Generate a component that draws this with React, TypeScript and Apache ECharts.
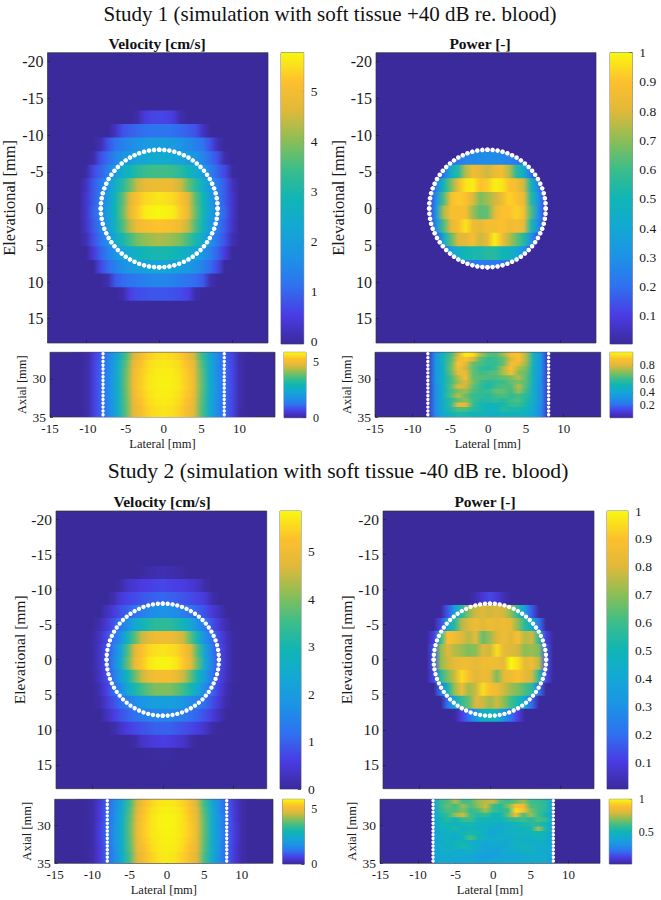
import React, { useEffect, useRef } from "react";
import * as echarts from "echarts";

const FONT = "Liberation Serif";

const parulaStops = ["#3b2a9c", "#4a3ce4", "#2f72f0", "#1c93e6", "#13a8d3", "#10b5b5", "#3cbd8a", "#8bbe55", "#e0b83a", "#fdc02e", "#f8f80f"];

const studyTitles = ["Study 1 (simulation with soft tissue +40 dB re. blood)", "Study 2 (simulation with soft tissue -40 dB re. blood)"];
const panelTitles = ["Velocity [cm/s]", "Power [-]"];

const rowEdges = [-15.2, -13.35, -11.5, -9.65, -7.8, -5.95, -4.1, -2.25, -0.4, 1.45, 3.3, 5.15, 7.0, 8.85, 10.7, 12.55, 14.4];
const lateralWide = [-12, -11, -10, -9, -8, -7, -6, -5, -4, -3, -2, -1, 0, 1, 2, 3, 4, 5, 6, 7, 8, 9, 10, 11, 12];
const lateralNarrow = [-8, -7, -6, -5, -4, -3, -2, -1, 0, 1, 2, 3, 4, 5, 6, 7, 8];

const velocity1 = [
  [0,0,0,0,0,0,0,0,0,0,0,0,0,0,0,0,0,0,0,0,0,0,0,0,0],
  [0,0,0,0,0,0,0,0,0,.1,.5,.65,.7,.65,.5,.1,0,0,0,0,0,0,0,0,0],
  [0,0,0,0,0,0,.3,.8,.95,1.05,1.15,1.2,1.2,1.2,1.15,1.05,.95,.8,.3,0,0,0,0,0,0],
  [0,0,0,0,.2,.8,1.2,1.4,1.6,1.75,1.9,2,2,2,1.9,1.75,1.6,1.4,1.2,.8,.2,0,0,0,0],
  [0,0,0,.1,.8,1.1,1.5,1.8,2,2.2,2.3,2.4,2.4,2.4,2.3,2.2,2,1.8,1.5,1.1,.8,.1,0,0,0],
  [0,0,.05,.7,1,1.4,2,2.5,2.9,3.2,3.4,3.5,3.5,3.5,3.4,3.2,2.9,2.5,2,1.4,1,.7,.05,0,0],
  [0,0,.3,.9,1.3,1.8,2.6,3.2,3.8,4.5,4.8,4.9,4.9,4.9,4.8,4.5,3.8,3.2,2.6,1.8,1.3,.9,.3,0,0],
  [0,0,.4,.9,1.4,2,2.9,3.7,4.7,5.2,5.45,5.55,5.6,5.55,5.45,5.2,4.7,3.7,2.9,2,1.4,.9,.4,0,0],
  [0,0,.4,1,1.5,2.1,2.9,3.8,4.8,5.3,5.65,5.75,5.78,5.75,5.65,5.3,4.8,3.8,2.9,2.1,1.5,1,.4,0,0],
  [0,0,.35,.9,1.4,1.9,2.8,3.6,4.4,4.9,5.1,5.2,5.25,5.2,5.1,4.9,4.4,3.6,2.8,1.9,1.4,.9,.35,0,0],
  [0,0,.2,.8,1.2,1.7,2.4,3,3.5,3.9,4.1,4.2,4.3,4.2,4.1,3.9,3.5,3,2.4,1.7,1.2,.8,.2,0,0],
  [0,0,0,.5,1,1.4,1.8,2.2,2.5,2.7,2.9,3,3,3,2.9,2.7,2.5,2.2,1.8,1.4,1,.5,0,0,0],
  [0,0,0,0,.7,1.1,1.4,1.7,1.9,2,2.1,2.2,2.2,2.2,2.1,2,1.9,1.7,1.4,1.1,.7,0,0,0,0],
  [0,0,0,0,0,.15,.9,1.1,1.2,1.3,1.4,1.5,1.5,1.5,1.4,1.3,1.2,1.1,.9,.15,0,0,0,0,0],
  [0,0,0,0,0,0,0,.1,.6,.75,.8,.85,.85,.85,.8,.75,.6,.1,0,0,0,0,0,0,0],
  [0,0,0,0,0,0,0,0,0,0,0,0,0,0,0,0,0,0,0,0,0,0,0,0,0],
];

const power1 = [
  [0,0,0,0,0,0,0,0,0,0,0,0,0,0,0,0,0,0,0,0,0,0,0,0,0],
  [0,0,0,0,0,0,0,0,0,0,0,0,0,0,0,0,0,0,0,0,0,0,0,0,0],
  [0,0,0,0,0,0,0,0,0,0,0,0,0,0,0,0,0,0,0,0,0,0,0,0,0],
  [0,0,0,0,0,0,0,0,0,0,.05,.08,.08,.08,.05,0,0,0,0,0,0,0,0,0,0],
  [0,0,0,0,0,.05,.12,.18,.22,.25,.27,.28,.28,.28,.27,.25,.22,.18,.12,.05,0,0,0,0,0],
  [0,0,0,0,0,.1,.2,.42,.55,.75,.86,.82,.78,.84,.86,.75,.55,.42,.2,.08,0,0,0,0,0],
  [0,0,0,0,.05,.25,.5,.68,.85,.96,.98,.9,.92,.98,.97,.9,.87,.78,.5,.25,.05,0,0,0,0],
  [0,0,0,0,.1,.3,.62,.88,.92,.9,.8,.68,.72,.78,.85,.93,.9,.84,.55,.3,.1,0,0,0,0],
  [0,0,0,0,.1,.35,.74,.88,.88,.88,.72,.64,.65,.82,.9,.9,.93,.87,.62,.3,.1,0,0,0,0],
  [0,0,0,0,.1,.3,.62,.82,.88,.96,.85,.82,.87,.87,.9,.85,.87,.82,.52,.28,.08,0,0,0,0],
  [0,0,0,0,.04,.15,.42,.64,.8,.82,.87,.78,.83,.98,.87,.75,.65,.54,.3,.12,.03,0,0,0,0],
  [0,0,0,0,0,.05,.12,.35,.45,.5,.52,.52,.55,.55,.5,.48,.4,.3,.12,.05,0,0,0,0,0],
  [0,0,0,0,0,0,.05,.1,.15,.2,.22,.22,.22,.22,.22,.2,.15,.1,.05,0,0,0,0,0,0],
  [0,0,0,0,0,0,0,0,0,0,.03,.05,.05,.05,.03,0,0,0,0,0,0,0,0,0,0],
  [0,0,0,0,0,0,0,0,0,0,0,0,0,0,0,0,0,0,0,0,0,0,0,0,0],
  [0,0,0,0,0,0,0,0,0,0,0,0,0,0,0,0,0,0,0,0,0,0,0,0,0],
];

const velocity2 = [
  [0,0,0,0,0,0,0,0,0,0,0,0,0,0,0,0,0,0,0,0,0,0,0,0,0],
  [0,0,0,0,0,0,0,0,0,.03,.1,.15,.18,.15,.1,.03,0,0,0,0,0,0,0,0,0],
  [0,0,0,0,0,0,.1,.35,.45,.55,.6,.65,.7,.65,.6,.55,.45,.35,.1,0,0,0,0,0,0],
  [0,0,0,0,0,.15,.5,.65,.75,.85,.95,1,1.05,1,.95,.85,.75,.65,.5,.15,0,0,0,0,0],
  [0,0,0,0,.25,.5,.8,1,1.2,1.4,1.6,1.7,1.75,1.7,1.6,1.4,1.2,1,.8,.5,.25,0,0,0,0],
  [0,0,0,.15,.45,.85,1.3,1.7,2.3,2.8,3.1,3.3,3.3,3.3,3.1,2.8,2.3,1.7,1.3,.85,.45,.15,0,0,0],
  [0,0,.05,.3,.7,1.2,1.7,2.8,3.7,4.5,4.8,5,5,5,4.8,4.5,3.7,2.8,1.7,1.2,.7,.3,.05,0,0],
  [0,0,.05,.35,.8,1.4,2.2,3.6,4.7,5.2,5.5,5.6,5.65,5.6,5.5,5.2,4.7,3.6,2.2,1.4,.8,.35,.05,0,0],
  [0,0,.05,.35,.8,1.5,2.4,3.8,4.8,5.3,5.65,5.78,5.82,5.78,5.65,5.3,4.8,3.8,2.4,1.5,.8,.35,.05,0,0],
  [0,0,.05,.3,.7,1.3,2,2.9,3.8,4.5,4.9,5.1,5.1,5.1,4.9,4.5,3.8,2.9,2,1.3,.7,.3,.05,0,0],
  [0,0,0,.2,.6,1.1,1.6,2.3,3,3.5,3.8,4,4,4,3.8,3.5,3,2.3,1.6,1.1,.6,.2,0,0,0],
  [0,0,0,.1,.45,.8,1.1,1.4,1.6,1.8,2,2.1,2.1,2.1,2,1.8,1.6,1.4,1.1,.8,.45,.1,0,0,0],
  [0,0,0,0,.25,.55,.8,1,1.15,1.3,1.4,1.5,1.5,1.5,1.4,1.3,1.15,1,.8,.55,.25,0,0,0,0],
  [0,0,0,0,0,.1,.35,.55,.7,.8,.9,1,1,1,.9,.8,.7,.55,.35,.1,0,0,0,0,0],
  [0,0,0,0,0,0,0,0,.1,.35,.45,.55,.6,.55,.45,.35,.1,0,0,0,0,0,0,0,0],
  [0,0,0,0,0,0,0,0,0,0,0,.05,.05,.05,0,0,0,0,0,0,0,0,0,0,0],
];

const power2 = [
  [0,0,0,0,0,0,0,0,0,0,0,0,0,0,0,0,0,0,0,0,0,0,0,0,0],
  [0,0,0,0,0,0,0,0,0,0,0,0,0,0,0,0,0,0,0,0,0,0,0,0,0],
  [0,0,0,0,0,0,0,0,0,0,0,0,0,0,0,0,0,0,0,0,0,0,0,0,0],
  [0,0,0,0,0,0,0,0,0,0,.03,.08,.12,.08,.03,0,0,0,0,0,0,0,0,0,0],
  [0,0,0,0,0,0,.15,.35,.55,.7,.78,.8,.78,.8,.78,.7,.55,.35,.15,0,0,0,0,0,0],
  [0,0,0,0,0,.12,.4,.55,.75,.8,.85,.8,.85,.82,.85,.82,.7,.55,.45,.2,0,0,0,0,0],
  [0,0,0,0,.1,.55,.9,.85,.8,.75,.82,.65,.72,.8,.85,.8,.88,.75,.78,.55,.1,0,0,0,0],
  [0,0,0,0,.15,.7,.8,.75,.72,.68,.7,.8,.78,.95,.82,.8,.78,.7,.72,.68,.15,0,0,0,0],
  [0,0,0,0,.15,.7,.78,.82,.85,.85,.82,.85,.85,.85,.82,1,.95,.82,.85,.75,.15,0,0,0,0],
  [0,0,0,0,.12,.55,.68,.78,.95,.88,.8,.85,.82,.68,.82,.85,.9,.82,.78,.55,.12,0,0,0,0],
  [0,0,0,0,0,.2,.5,.72,.85,.72,.78,.95,.88,.85,.78,.72,.68,.62,.55,.2,0,0,0,0,0],
  [0,0,0,0,0,0,.2,.4,.58,.65,.8,.78,.72,.78,.7,.6,.52,.4,.18,0,0,0,0,0,0],
  [0,0,0,0,0,0,0,0,.1,.2,.3,.45,.5,.45,.3,.2,.1,0,0,0,0,0,0,0,0],
  [0,0,0,0,0,0,0,0,0,0,0,0,0,0,0,0,0,0,0,0,0,0,0,0,0],
  [0,0,0,0,0,0,0,0,0,0,0,0,0,0,0,0,0,0,0,0,0,0,0,0,0],
  [0,0,0,0,0,0,0,0,0,0,0,0,0,0,0,0,0,0,0,0,0,0,0,0,0],
];

const axialEdgesVelocity = [26.5, 27.5, 28.5, 29.5, 30.5, 31.5, 32.5, 33.5, 35];
const velocitySmall1 = [
  [0,0,.12,.65,1.05,1.65,2.45,3.55,4.6,5.1,5.4,5.55,5.6,5.55,5.4,5.1,4.6,3.55,2.45,1.65,1.05,.65,.12,0,0],
  [0,0,.12,.7,1.1,1.7,2.55,3.7,4.8,5.25,5.55,5.65,5.7,5.65,5.55,5.25,4.8,3.7,2.55,1.7,1.1,.7,.12,0,0],
  [0,0,.15,.7,1.1,1.7,2.6,3.8,4.9,5.35,5.6,5.72,5.75,5.72,5.6,5.35,4.9,3.8,2.6,1.7,1.1,.7,.15,0,0],
  [0,0,.15,.7,1.15,1.75,2.6,3.85,4.95,5.4,5.65,5.75,5.78,5.75,5.65,5.4,4.95,3.85,2.6,1.75,1.15,.7,.15,0,0],
  [0,0,.15,.7,1.15,1.75,2.65,3.85,4.95,5.4,5.65,5.75,5.78,5.75,5.65,5.4,4.95,3.85,2.65,1.75,1.15,.7,.15,0,0],
  [0,0,.15,.7,1.15,1.75,2.6,3.8,4.9,5.35,5.6,5.72,5.75,5.72,5.6,5.35,4.9,3.8,2.6,1.75,1.15,.7,.15,0,0],
  [0,0,.15,.7,1.1,1.7,2.6,3.75,4.85,5.25,5.55,5.68,5.72,5.68,5.55,5.25,4.85,3.75,2.6,1.7,1.1,.7,.15,0,0],
  [0,0,.12,.7,1.1,1.7,2.55,3.7,4.75,5.15,5.45,5.6,5.65,5.6,5.45,5.15,4.75,3.7,2.55,1.7,1.1,.7,.12,0,0],
];
const velocitySmall2 = [
  [0,0,.1,.45,1,1.6,2.4,3.5,4.6,5.2,5.5,5.65,5.7,5.65,5.5,5.2,4.6,3.5,2.4,1.6,1,.45,.1,0,0],
  [0,0,.1,.5,1.05,1.65,2.5,3.65,4.75,5.3,5.6,5.72,5.78,5.72,5.6,5.3,4.75,3.65,2.5,1.65,1.05,.5,.1,0,0],
  [0,0,.1,.5,1.1,1.7,2.55,3.75,4.85,5.35,5.65,5.78,5.82,5.78,5.65,5.35,4.85,3.75,2.55,1.7,1.1,.5,.1,0,0],
  [0,0,.1,.55,1.1,1.7,2.6,3.8,4.9,5.4,5.65,5.78,5.82,5.78,5.65,5.4,4.9,3.8,2.6,1.7,1.1,.55,.1,0,0],
  [0,0,.1,.55,1.1,1.75,2.6,3.8,4.9,5.4,5.65,5.75,5.8,5.75,5.65,5.4,4.9,3.8,2.6,1.75,1.1,.55,.1,0,0],
  [0,0,.1,.55,1.1,1.75,2.6,3.75,4.85,5.35,5.6,5.72,5.78,5.72,5.6,5.35,4.85,3.75,2.6,1.75,1.1,.55,.1,0,0],
  [0,0,.1,.5,1.05,1.7,2.55,3.7,4.8,5.25,5.55,5.7,5.75,5.7,5.55,5.25,4.8,3.7,2.55,1.7,1.05,.5,.1,0,0],
  [0,0,.1,.5,1.05,1.65,2.5,3.6,4.7,5.15,5.45,5.65,5.7,5.65,5.45,5.15,4.7,3.6,2.5,1.65,1.05,.5,.1,0,0],
];

const axialEdgesPower = [26.5, 27.1, 27.7, 28.3, 28.9, 29.5, 30.1, 30.7, 31.3, 31.9, 32.5, 33.1, 33.7, 34.3, 35];
const powerSmall1 = [
  [.05,.3,.48,.6,.78,.98,.95,.74,.64,.62,.72,.87,.9,.75,.48,.3,.05],
  [.05,.3,.48,.62,.84,.9,.8,.64,.58,.6,.65,.8,.9,.75,.48,.3,.05],
  [.05,.3,.48,.64,.9,.82,.65,.62,.58,.58,.65,.87,.84,.72,.48,.3,.05],
  [.05,.3,.46,.66,.87,.78,.65,.58,.55,.6,.74,.9,.75,.68,.46,.3,.05],
  [.05,.3,.46,.64,.84,.84,.65,.6,.62,.64,.74,.87,.7,.65,.46,.3,.05],
  [.05,.3,.45,.6,.75,.87,.65,.64,.62,.62,.65,.68,.75,.64,.46,.28,.05],
  [.05,.3,.45,.6,.72,.8,.68,.6,.55,.58,.6,.65,.68,.64,.45,.28,.05],
  [.05,.28,.44,.62,.8,.78,.65,.58,.52,.6,.62,.62,.75,.62,.44,.28,.05],
  [.05,.28,.44,.6,.68,.72,.62,.58,.58,.65,.65,.6,.72,.6,.44,.28,.05],
  [.05,.28,.44,.62,.75,.65,.58,.58,.55,.6,.62,.58,.6,.56,.44,.28,.05],
  [.05,.28,.44,.55,.65,.7,.6,.55,.55,.58,.55,.6,.62,.54,.44,.28,.05],
  [.05,.28,.44,.56,.82,.82,.58,.52,.48,.48,.52,.58,.58,.52,.42,.28,.05],
  [.05,.28,.42,.54,.62,.62,.55,.52,.48,.48,.55,.52,.52,.48,.4,.26,.05],
  [.05,.26,.4,.48,.52,.52,.5,.48,.45,.45,.48,.48,.48,.45,.38,.26,.05],
];
const powerSmall2 = [
  [.35,.58,.62,.75,.6,.62,.72,.75,.78,.62,.6,.65,.72,.6,.58,.55,.35],
  [.35,.58,.65,.6,.72,.62,.7,.78,.6,.55,.68,.88,.85,.62,.6,.55,.35],
  [.35,.55,.62,.62,.68,.58,.62,.72,.6,.55,.6,.95,.9,.68,.6,.55,.35],
  [.35,.52,.58,.72,.78,.6,.55,.58,.5,.5,.65,.85,.62,.72,.6,.5,.35],
  [.35,.5,.55,.5,.58,.6,.5,.5,.48,.5,.55,.58,.6,.55,.62,.58,.35],
  [.35,.5,.5,.48,.5,.52,.45,.48,.45,.42,.45,.5,.52,.55,.55,.5,.35],
  [.35,.45,.5,.52,.45,.5,.48,.45,.4,.42,.48,.45,.5,.5,.72,.52,.35],
  [.35,.42,.48,.45,.5,.52,.5,.42,.4,.42,.45,.48,.48,.5,.5,.48,.35],
  [.35,.45,.45,.42,.5,.62,.5,.45,.42,.45,.42,.45,.45,.45,.5,.45,.35],
  [.35,.42,.48,.5,.5,.45,.42,.4,.42,.4,.42,.48,.45,.42,.45,.42,.35],
  [.35,.45,.42,.5,.52,.45,.42,.38,.4,.38,.42,.45,.5,.48,.42,.45,.35],
  [.35,.42,.45,.42,.42,.45,.4,.38,.36,.38,.42,.42,.48,.45,.42,.42,.35],
  [.35,.42,.4,.42,.4,.4,.38,.35,.36,.38,.4,.4,.4,.42,.42,.42,.35],
  [.32,.42,.42,.4,.4,.4,.38,.38,.38,.4,.4,.4,.42,.42,.42,.42,.32],
];

const circleQuarterX = [8, 7.97, 7.88, 7.73, 7.52, 7.25, 6.93, 6.55, 6.13, 5.66, 5.14, 4.59, 4, 3.38, 2.74, 2.07, 1.39, 0.7, 0];
const circleQuarterY = [0, 0.7, 1.39, 2.07, 2.74, 3.38, 4, 4.59, 5.14, 5.66, 6.13, 6.55, 6.93, 7.25, 7.52, 7.73, 7.88, 7.97, 8];
const axialDots = [26.7, 27.2, 27.7, 28.2, 28.7, 29.2, 29.7, 30.2, 30.7, 31.2, 31.7, 32.2, 32.7, 33.2, 33.7, 34.2, 34.7];
const dotLaterals = [-8, 8];

const elevationTicks = [-20, -15, -10, -5, 0, 5, 10, 15];
const mainLateralTicks = [-10, 0, 10];
const smallLateralTicks = [-15, -10, -5, 0, 5, 10];
const axialTicks = [30, 35];
const velocityBarTicks = [0, 1, 2, 3, 4, 5];
const powerBarTicks = [0.1, 0.2, 0.3, 0.4, 0.5, 0.6, 0.7, 0.8, 0.9, 1];
const smallVelocityBarTicks = [0, 5];
const smallPower1BarTicks = [0.2, 0.4, 0.6, 0.8];
const smallPower2BarTicks = [0.5, 1];

function parula(t: number) {
  return echarts.color.lerp(Math.max(0, Math.min(1, t)), parulaStops) as string;
}

type Box = { l: number; t: number; w: number; h: number };

function buildOption() {
  const grid: any[] = [];
  const xAxis: any[] = [];
  const yAxis: any[] = [];
  const series: any[] = [];
  const axisText = (size: number) => ({ fontFamily: FONT, fontSize: size, color: "#1a1a1a" });

  const heat = (
    gi: number,
    rows: number[][],
    edges: number[],
    lateral: number[],
    vMax: number,
    clipRadius?: number,
  ) => {
    series.push({
      type: "custom",
      coordinateSystem: "cartesian2d",
      xAxisIndex: gi,
      yAxisIndex: gi,
      silent: true,
      clip: true,
      z: 2,
      data: rows.map((_, i) => [lateral[0], edges[i]]),
      renderItem: (params: any, api: any) => {
        const i = params.dataIndex;
        const a = api.coord([lateral[0], edges[i]]);
        const b = api.coord([lateral[lateral.length - 1], edges[i + 1]]);
        const x = Math.min(a[0], b[0]);
        const y = Math.min(a[1], b[1]);
        const span = lateral[lateral.length - 1] - lateral[0];
        const stops = rows[i].map((v, k) => ({
          offset: (lateral[k] - lateral[0]) / span,
          color: parula(v / vMax),
        }));
        const el: any = {
          type: "rect",
          shape: { x, y, width: Math.abs(b[0] - a[0]), height: Math.abs(b[1] - a[1]) + (i < rows.length - 1 ? 1 : 0) },
          style: { fill: new echarts.graphic.LinearGradient(0, 0, 1, 0, stops) },
        };
        if (clipRadius) {
          const c = api.coord([0, 0]);
          const e = api.coord([clipRadius, 0]);
          el.clipPath = { type: "circle", shape: { cx: c[0], cy: c[1], r: Math.abs(e[0] - c[0]) } };
        }
        return el;
      },
    });
  };

  const addPlot = (
    box: Box,
    xr: number[],
    yr: number[],
    xTicks: number[],
    yTicks: number[],
    showX: boolean,
    yName: string,
    yNameGap: number,
    yNameSize: number,
    yLabelSize: number,
    inverse: boolean,
  ) => {
    const gi = grid.length;
    grid.push({
      left: box.l, top: box.t, width: box.w, height: box.h, show: true, z: 0,
      backgroundColor: parula(0), borderColor: "#333", borderWidth: 0.7, containLabel: false,
    });
    xAxis.push({
      gridIndex: gi, type: "value", min: xr[0], max: xr[1], position: "bottom",
      name: showX ? "Lateral [mm]" : "", nameLocation: "middle", nameGap: 20,
      nameTextStyle: axisText(12.5),
      splitLine: { show: false }, axisLine: { show: false, onZero: false },
      axisTick: { show: true, inside: true, length: 3, customValues: xTicks, lineStyle: { color: "#222", width: 0.7 } },
      axisLabel: { show: showX, customValues: xTicks, margin: 5, ...axisText(13) },
    });
    yAxis.push({
      gridIndex: gi, type: "value", min: yr[0], max: yr[1], inverse, position: "left",
      name: yName, nameLocation: "middle", nameGap: yNameGap, nameRotate: 90,
      nameTextStyle: axisText(yNameSize),
      splitLine: { show: false }, axisLine: { show: false, onZero: false },
      axisTick: { show: true, inside: true, length: 3, customValues: yTicks, lineStyle: { color: "#222", width: 0.7 } },
      axisLabel: { customValues: yTicks, margin: 4, ...axisText(yLabelSize) },
    });
    return gi;
  };

  const addBar = (box: Box, cMin: number, cMax: number, ticks: number[], size: number) => {
    const gi = grid.length;
    grid.push({ left: box.l, top: box.t, width: box.w, height: box.h, show: true, borderColor: "#444", borderWidth: 0.7, backgroundColor: "transparent" });
    xAxis.push({ gridIndex: gi, type: "value", min: 0, max: 1, show: false });
    yAxis.push({
      gridIndex: gi, type: "value", min: cMin, max: cMax, position: "right",
      splitLine: { show: false }, axisLine: { show: false, onZero: false },
      axisTick: { show: true, inside: true, length: 3, customValues: ticks, lineStyle: { color: "#222", width: 0.7 } },
      axisLabel: { customValues: ticks, margin: 7, formatter: (v: number) => String(v), ...axisText(size) },
    });
    series.push({
      type: "custom", coordinateSystem: "cartesian2d", xAxisIndex: gi, yAxisIndex: gi, silent: true, z: 1,
      data: [[0, cMax]],
      renderItem: (_: any, api: any) => {
        const a = api.coord([0, cMax]);
        const b = api.coord([1, cMin]);
        const n = parulaStops.length - 1;
        const colorStops = parulaStops.map((_c, k) => ({ offset: k / n, color: parulaStops[n - k] }));
        return {
          type: "rect",
          shape: { x: a[0], y: a[1], width: b[0] - a[0], height: b[1] - a[1] },
          style: { fill: new echarts.graphic.LinearGradient(0, 0, 0, 1, colorStops) },
        };
      },
    });
  };

  const addCircle = (gi: number, size: number) => {
    const pts: number[][] = [];
    circleQuarterX.forEach((x, i) => {
      const y = circleQuarterY[i];
      pts.push([x, y], [-x, y], [x, -y], [-x, -y]);
    });
    series.push({
      type: "scatter", xAxisIndex: gi, yAxisIndex: gi, silent: true, z: 5, symbol: "circle", symbolSize: size,
      itemStyle: { color: "#ffffff", opacity: 1 }, data: pts,
    });
  };

  const addLines = (gi: number, size: number) => {
    const pts: number[][] = [];
    dotLaterals.forEach((x) => axialDots.forEach((y) => pts.push([x, y])));
    series.push({
      type: "scatter", xAxisIndex: gi, yAxisIndex: gi, silent: true, z: 5, symbol: "circle", symbolSize: size,
      itemStyle: { color: "#ffffff", opacity: 1 }, data: pts,
    });
  };

  // Study 1 main panels
  let g = addPlot({ l: 47.5, t: 52.7, w: 220.5, h: 290.3 }, [-15.3, 14.9], [-21.2, 18.3], mainLateralTicks, elevationTicks, false, "Elevational [mm]", 26, 16.5, 16, true);
  heat(g, velocity1, rowEdges, lateralWide, 5.8);
  addCircle(g, 4.6);
  g = addPlot({ l: 376, t: 52.7, w: 220, h: 290.3 }, [-15.3, 14.9], [-21.2, 18.3], mainLateralTicks, elevationTicks, false, "Elevational [mm]", 26, 16.5, 16, true);
  heat(g, power1, rowEdges, lateralWide, 1, 8.1);
  addCircle(g, 4.6);
  addBar({ l: 281, t: 52.7, w: 22.7, h: 291.3 }, -0.06, 5.78, velocityBarTicks, 13.5);
  addBar({ l: 610, t: 52.7, w: 22.3, h: 291.3 }, 0.004, 1, powerBarTicks, 13.5);

  // Study 1 small panels
  g = addPlot({ l: 50, t: 352.3, w: 225, h: 64.7 }, [-15, 14.7], [26.5, 35], smallLateralTicks, axialTicks, true, "Axial [mm]", 13, 12.5, 13.5, true);
  heat(g, velocitySmall1, axialEdgesVelocity, lateralWide, 5.85);
  addLines(g, 3.4);
  g = addPlot({ l: 375, t: 352.3, w: 225.7, h: 64.7 }, [-15, 14.9], [26.5, 35], smallLateralTicks, axialTicks, true, "Axial [mm]", 13, 12.5, 13.5, true);
  heat(g, powerSmall1, axialEdgesPower, lateralNarrow, 1);
  addLines(g, 3.4);
  addBar({ l: 284, t: 352.3, w: 22, h: 65.4 }, 0, 5.87, smallVelocityBarTicks, 12);
  addBar({ l: 610, t: 352.3, w: 22.7, h: 65.4 }, 0.006, 1, smallPower1BarTicks, 12);

  // Study 2 main panels
  g = addPlot({ l: 56, t: 511, w: 210.7, h: 277.7 }, [-15.2, 14.8], [-21.2, 18.4], mainLateralTicks, elevationTicks, false, "Elevational [mm]", 27, 15.5, 15.5, true);
  heat(g, velocity2, rowEdges, lateralWide, 5.85);
  addCircle(g, 4.4);
  g = addPlot({ l: 383, t: 511, w: 211, h: 277.7 }, [-15.2, 14.8], [-21.2, 18.4], mainLateralTicks, elevationTicks, false, "Elevational [mm]", 27, 15.5, 15.5, true);
  heat(g, power2, rowEdges, lateralWide, 1);
  addCircle(g, 4.4);
  addBar({ l: 280, t: 511, w: 21, h: 278 }, 0, 5.86, velocityBarTicks, 13.5);
  addBar({ l: 607, t: 511, w: 21, h: 278 }, 0.004, 1, powerBarTicks, 13.5);

  // Study 2 small panels
  g = addPlot({ l: 54.7, t: 799.3, w: 218.3, h: 64 }, [-15.05, 14.2], [26.5, 35], smallLateralTicks, axialTicks, true, "Axial [mm]", 13, 12.5, 13.5, true);
  heat(g, velocitySmall2, axialEdgesVelocity, lateralWide, 5.85);
  addLines(g, 3.4);
  g = addPlot({ l: 380, t: 799.3, w: 220, h: 64 }, [-15.05, 14.2], [26.5, 35], smallLateralTicks, axialTicks, true, "Axial [mm]", 13, 12.5, 13.5, true);
  heat(g, powerSmall2, axialEdgesPower, lateralNarrow, 1);
  addLines(g, 3.4);
  addBar({ l: 282.7, t: 799.3, w: 21.6, h: 64.7 }, 0, 5.87, smallVelocityBarTicks, 12);
  addBar({ l: 609.3, t: 799.3, w: 22.4, h: 64.7 }, 0, 1, smallPower2BarTicks, 12);

  const studyText = (size: number) => ({ fontFamily: FONT, fontSize: size, fontWeight: "normal", color: "#111" });
  const panelText = { fontFamily: FONT, fontSize: 15.5, fontWeight: "bold", color: "#111" };
  const title: any[] = [
    { text: studyTitles[0], left: 330, top: 3, padding: 0, textAlign: "center", textStyle: studyText(21) },
    { text: studyTitles[1], left: 338, top: 460, padding: 0, textAlign: "center", textStyle: studyText(21.6) },
    { text: panelTitles[0], left: 157, top: 35, padding: 0, textAlign: "center", textStyle: panelText },
    { text: panelTitles[1], left: 480, top: 35, padding: 0, textAlign: "center", textStyle: panelText },
    { text: panelTitles[0], left: 162, top: 493.5, padding: 0, textAlign: "center", textStyle: panelText },
    { text: panelTitles[1], left: 485, top: 493.5, padding: 0, textAlign: "center", textStyle: panelText },
  ];

  return { animation: false, backgroundColor: "#ffffff", title, grid, xAxis, yAxis, series };
}

export default function App() {
  const ref = useRef<HTMLDivElement>(null);
  useEffect(() => {
    document.body.style.margin = "0";
    const chart = echarts.init(ref.current!, undefined, { renderer: "svg" });
    chart.setOption(buildOption() as any);
    return () => chart.dispose();
  }, []);
  return <div ref={ref} style={{ width: 661, height: 900 }} />;
}
